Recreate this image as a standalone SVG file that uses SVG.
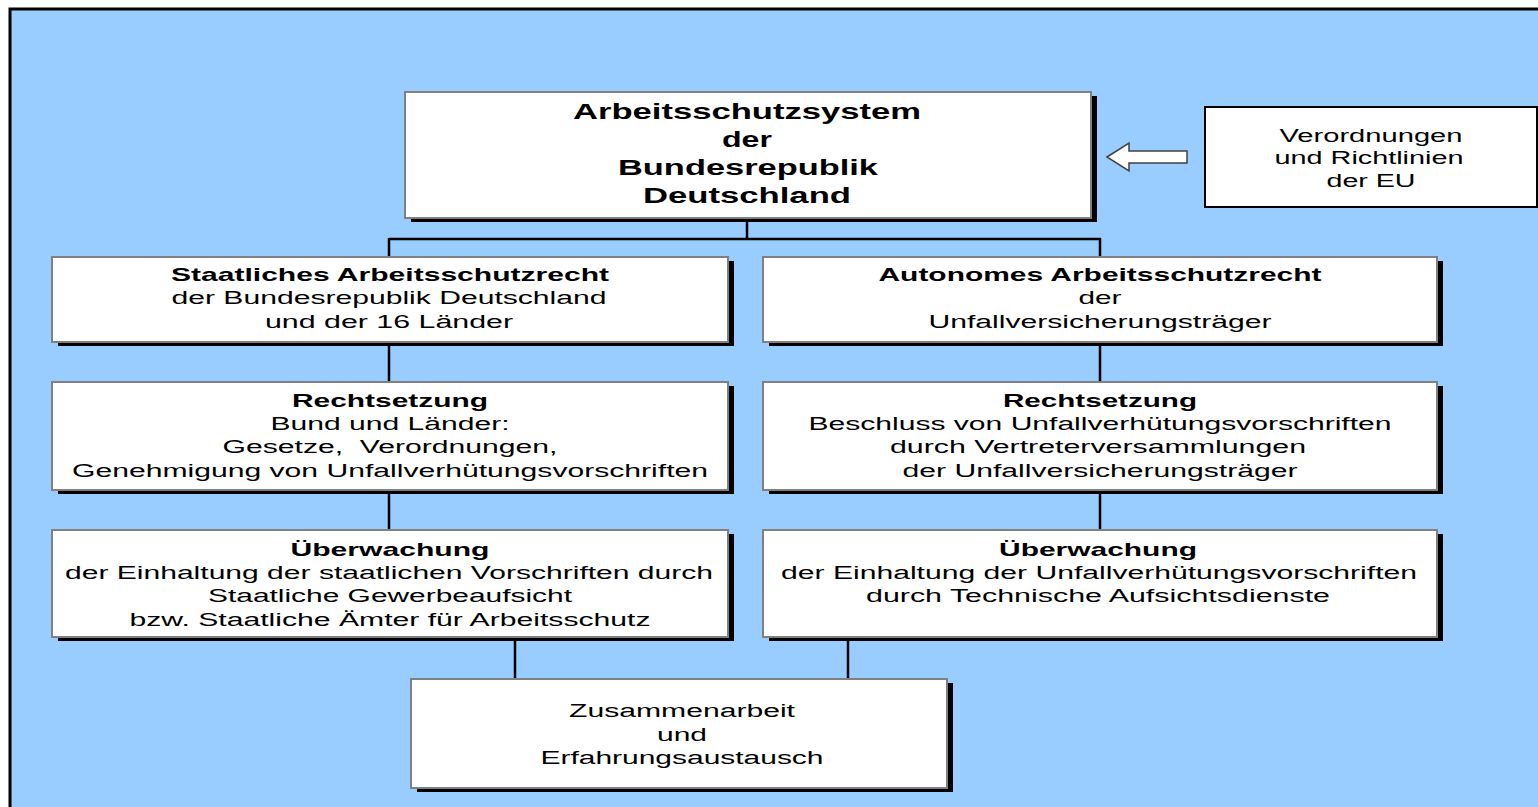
<svg xmlns="http://www.w3.org/2000/svg" width="1538" height="807" viewBox="0 0 1538 807">
<style>
.box{fill:#ffffff;stroke:#808080;stroke-width:2}
.sh{fill:#000000}
.con line{stroke:#000000;stroke-width:2.5}
text{font-family:"Liberation Sans",Arial,sans-serif;fill:#000000;text-anchor:middle;white-space:pre}
.b{font-weight:bold;font-size:19px}
.t{font-weight:bold;font-size:22px}
.r{font-size:18px}
</style>
<rect x="10" y="9" width="1540" height="810" fill="#99CCFF" stroke="#000000" stroke-width="3"/>
<g id="connectors" class="con">
<line x1="747" y1="218" x2="747" y2="239"/>
<line x1="389" y1="239" x2="1101" y2="239"/>
<line x1="389" y1="238" x2="389" y2="257"/>
<line x1="1100" y1="238" x2="1100" y2="257"/>
<line x1="389" y1="342" x2="389" y2="382"/>
<line x1="1100" y1="342" x2="1100" y2="382"/>
<line x1="389" y1="490" x2="389" y2="530"/>
<line x1="1100" y1="490" x2="1100" y2="530"/>
<line x1="515" y1="637" x2="515" y2="679"/>
<line x1="848" y1="637" x2="848" y2="679"/>
<polygon points="1107,157 1129,143 1129,151 1187,151 1187,163 1129,163 1129,171" fill="#ffffff" stroke="#404040" stroke-width="1.5"/>
</g>
<g id="top">
<rect class="sh" x="411" y="96" width="686" height="126"/>
<rect class="box" x="405" y="92" width="686" height="126"/>
<text class="t" x="747" y="119" textLength="348" lengthAdjust="spacingAndGlyphs">Arbeitsschutzsystem</text>
<text class="t" x="747" y="147" textLength="50" lengthAdjust="spacingAndGlyphs">der</text>
<text class="t" x="748" y="175" textLength="260" lengthAdjust="spacingAndGlyphs">Bundesrepublik</text>
<text class="t" x="747" y="203" textLength="208" lengthAdjust="spacingAndGlyphs">Deutschland</text>
</g>
<g id="eu">
<rect x="1205" y="107" width="332" height="100" fill="#ffffff" stroke="#000000" stroke-width="2"/>
<text class="r" x="1371" y="142" textLength="183" lengthAdjust="spacingAndGlyphs">Verordnungen</text>
<text class="r" x="1369" y="164" textLength="189" lengthAdjust="spacingAndGlyphs">und Richtlinien</text>
<text class="r" x="1371" y="187" textLength="89" lengthAdjust="spacingAndGlyphs">der EU</text>
</g>
<g id="staat">
<rect class="sh" x="58" y="261" width="676" height="85"/>
<rect class="box" x="52" y="257" width="676" height="85"/>
<text class="b" x="390" y="281" textLength="438" lengthAdjust="spacingAndGlyphs">Staatliches Arbeitsschutzrecht</text>
<text class="r" x="389" y="304" textLength="435" lengthAdjust="spacingAndGlyphs">der Bundesrepublik Deutschland</text>
<text class="r" x="389" y="328" textLength="248" lengthAdjust="spacingAndGlyphs">und der 16 Länder</text>
</g>
<g id="autonom">
<rect class="sh" x="769" y="261" width="674" height="85"/>
<rect class="box" x="763" y="257" width="674" height="85"/>
<text class="b" x="1100" y="281" textLength="443" lengthAdjust="spacingAndGlyphs">Autonomes Arbeitsschutzrecht</text>
<text class="r" x="1100" y="304" textLength="43" lengthAdjust="spacingAndGlyphs">der</text>
<text class="r" x="1100" y="328" textLength="343" lengthAdjust="spacingAndGlyphs">Unfallversicherungsträger</text>
</g>
<g id="recht-l">
<rect class="sh" x="58" y="386" width="676" height="108"/>
<rect class="box" x="52" y="382" width="676" height="108"/>
<text class="b" x="390" y="407" textLength="196" lengthAdjust="spacingAndGlyphs">Rechtsetzung</text>
<text class="r" x="390" y="430" textLength="239" lengthAdjust="spacingAndGlyphs">Bund und Länder:</text>
<text class="r" x="390" y="453" textLength="335" lengthAdjust="spacingAndGlyphs">Gesetze,  Verordnungen,</text>
<text class="r" x="390" y="477" textLength="636" lengthAdjust="spacingAndGlyphs">Genehmigung von Unfallverhütungsvorschriften</text>
</g>
<g id="recht-r">
<rect class="sh" x="769" y="386" width="674" height="108"/>
<rect class="box" x="763" y="382" width="674" height="108"/>
<text class="b" x="1100" y="407" textLength="194" lengthAdjust="spacingAndGlyphs">Rechtsetzung</text>
<text class="r" x="1100" y="430" textLength="583" lengthAdjust="spacingAndGlyphs">Beschluss von Unfallverhütungsvorschriften</text>
<text class="r" x="1098" y="453" textLength="416" lengthAdjust="spacingAndGlyphs">durch Vertreterversammlungen</text>
<text class="r" x="1100" y="477" textLength="395" lengthAdjust="spacingAndGlyphs">der Unfallversicherungsträger</text>
</g>
<g id="ueber-l">
<rect class="sh" x="58" y="534" width="676" height="107"/>
<rect class="box" x="52" y="530" width="676" height="107"/>
<text class="b" x="390" y="556" textLength="199" lengthAdjust="spacingAndGlyphs">Überwachung</text>
<text class="r" x="389" y="579" textLength="648" lengthAdjust="spacingAndGlyphs">der Einhaltung der staatlichen Vorschriften durch</text>
<text class="r" x="390" y="602" textLength="364" lengthAdjust="spacingAndGlyphs">Staatliche Gewerbeaufsicht</text>
<text class="r" x="390" y="626" textLength="521" lengthAdjust="spacingAndGlyphs">bzw. Staatliche Ämter für Arbeitsschutz</text>
</g>
<g id="ueber-r">
<rect class="sh" x="769" y="534" width="674" height="107"/>
<rect class="box" x="763" y="530" width="674" height="107"/>
<text class="b" x="1098" y="556" textLength="198" lengthAdjust="spacingAndGlyphs">Überwachung</text>
<text class="r" x="1099" y="579" textLength="636" lengthAdjust="spacingAndGlyphs">der Einhaltung der Unfallverhütungsvorschriften</text>
<text class="r" x="1098" y="602" textLength="464" lengthAdjust="spacingAndGlyphs">durch Technische Aufsichtsdienste</text>
</g>
<g id="zusammen">
<rect class="sh" x="417" y="683" width="536" height="109"/>
<rect class="box" x="411" y="679" width="536" height="109"/>
<text class="r" x="682" y="717" textLength="226" lengthAdjust="spacingAndGlyphs">Zusammenarbeit</text>
<text class="r" x="682" y="741" textLength="50" lengthAdjust="spacingAndGlyphs">und</text>
<text class="r" x="682" y="764" textLength="283" lengthAdjust="spacingAndGlyphs">Erfahrungsaustausch</text>
</g>
</svg>
